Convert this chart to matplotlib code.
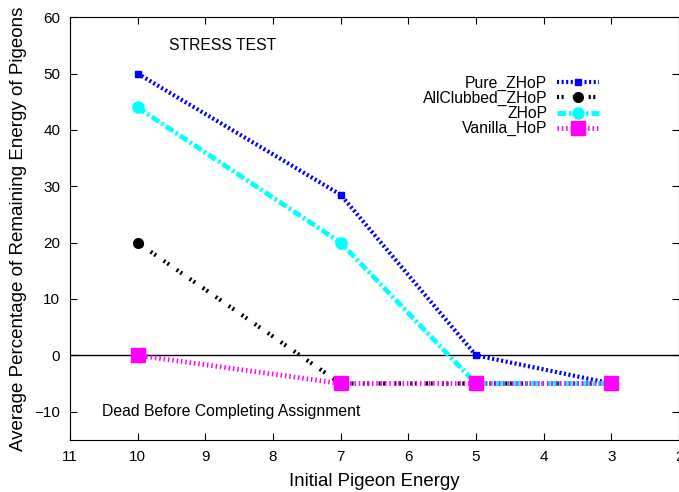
import matplotlib
matplotlib.use("Agg")
import matplotlib.pyplot as plt

plt.rcParams['font.family'] = ['Liberation Sans', 'DejaVu Sans']

energy = [10, 7, 5, 3]
pure_zhop = [50, 28.5, 0, -5]
allclubbed_zhop = [20, -5, -5, -5]
zhop = [44, 20, -5, -5]
vanilla_hop = [0, -5, -5, -5]

xticks = [11, 10, 9, 8, 7, 6, 5, 4, 3, 2]
yticks = [-10, 0, 10, 20, 30, 40, 50, 60]

fig = plt.figure(figsize=(6.79, 4.92), dpi=100)
ax = fig.add_axes([0.103, 0.106, 0.897, 0.859])

ax.axhline(0, color="black", linewidth=1, zorder=1)

# gnuplot draws later series on top
ax.plot(energy, pure_zhop, color="blue", linewidth=3, linestyle=(0, (0.5, 0.6)),
        marker="s", markersize=5, label="Pure_ZHoP", zorder=2)
ax.plot(energy, allclubbed_zhop, color="black", linewidth=3, linestyle=(0, (0.5, 0.6, 0.5, 2.2)),
        marker="o", markersize=7, label="AllClubbed_ZHoP", zorder=3)
ax.plot(energy, zhop, color="cyan", linewidth=3.5, linestyle=(0, (1.8, 0.6, 0.5, 0.6)),
        marker="o", markersize=8, label="ZHoP", zorder=4)
ax.plot(energy, vanilla_hop, color="magenta", linewidth=3.5, linestyle=(0, (0.3, 0.6)),
        marker="s", markersize=10, label="Vanilla_HoP", zorder=5)

ax.set_xlim(11, 2)
ax.set_ylim(-15, 60)
ax.set_xticks(xticks)
ax.set_yticks(yticks)
ax.tick_params(direction="in", top=True, right=True, labelsize=11, length=5, pad=7)

ax.set_xlabel("Initial Pigeon Energy", fontsize=13.4, labelpad=7)
ax.set_ylabel("Average Percentage of Remaining Energy of Pigeons", fontsize=13.5, labelpad=5)

ax.text(8.75, 55, "STRESS TEST", fontsize=11.3, ha="center", va="center")
ax.text(8.62, -10, "Dead Before Completing Assignment", fontsize=11.3, ha="center", va="center")

ax.legend(loc="upper right", bbox_to_anchor=(0.882, 0.88), frameon=False, markerfirst=False,
          fontsize=11.3, handlelength=2.7, labelspacing=0.0, borderpad=0, handletextpad=0.6)

plt.savefig("out.png", dpi=100)
